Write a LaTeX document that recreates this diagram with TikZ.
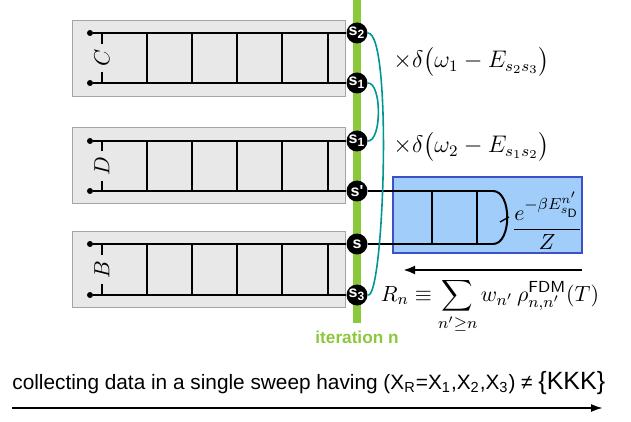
\documentclass[tikz,border=0pt]{standalone}
\usepackage{amsmath}
\usepackage{fontspec}
\newfontfamily\arial{Liberation Sans}
\usetikzlibrary{arrows.meta}
\definecolor{greybox}{RGB}{232,232,232}
\definecolor{greyline}{RGB}{165,165,165}
\definecolor{itgreen}{RGB}{140,200,60}
\definecolor{tealc}{RGB}{0,150,150}
\definecolor{bluefill}{RGB}{160,205,250}
\definecolor{blueline}{RGB}{60,80,200}
\begin{document}
\begin{tikzpicture}[x=0.5pt,y=-0.5pt,
  chainbox/.style={draw=greyline, fill=greybox, line width=0.5pt},
  leg/.style={line width=1pt, draw=black},
  siten/.style={circle, fill=black, minimum size=10.5pt, inner sep=0pt, text=white, font=\arial\bfseries\fontsize{8}{8}\selectfont},
  enddot/.style={circle, fill=black, minimum size=3pt, inner sep=0pt},
  blabel/.style={rotate=90, inner sep=2.5pt, font=\fontsize{10.95}{12}\selectfont},
  lnk/.style={draw=tealc, line width=0.8pt},
  mathlbl/.style={font=\fontsize{12}{14}\selectfont, anchor=west, inner sep=0pt},
  bigarrow/.style={line width=1.2pt, -{Latex[length=6pt,width=4.5pt]}}
]
\useasboundingbox (0,0) rectangle (631,422);
% grey boxes
\draw[chainbox] (72,21) rectangle (345,97);
\draw[chainbox] (72,128) rectangle (345,204);
\draw[chainbox] (72,232) rectangle (345,307);
% blue box
\draw[fill=bluefill, draw=blueline, line width=0.6pt] (393,177) rectangle (582,253);
% green iteration line
\draw[itgreen, line width=4pt] (357,0) -- (357,323);
% site nodes
\node[siten] (cs2) at (357,33) {s\textsubscript{2}};
\node[siten] (cs1) at (357,83) {s\textsubscript{1}};
\node[siten] (ds1) at (357,141) {s\textsubscript{1}};
\node[siten] (dsp) at (357,191) {s'};
\node[siten] (bs)  at (357,244) {s};
\node[siten] (bs3) at (357,295) {s\textsubscript{3}};
% end dots
\node[enddot] (cdt) at (90,33) {};
\node[enddot] (cdb) at (90,83) {};
\node[enddot] (ddt) at (90,141) {};
\node[enddot] (ddb) at (90,191) {};
\node[enddot] (bdt) at (90,244) {};
\node[enddot] (bdb) at (90,295) {};
% legs
\draw[leg] (cdt) -- (cs2);
\draw[leg] (cdb) -- (cs1);
\draw[leg] (ddt) -- (ds1);
\draw[leg] (ddb) -- (dsp);
\draw[leg] (bdt) -- (bs);
\draw[leg] (bdb) -- (bs3);
% rungs
\foreach \xx in {147,192,237,282,328}{
  \draw[leg] (\xx,33) -- (\xx,83);
  \draw[leg] (\xx,141) -- (\xx,191);
  \draw[leg] (\xx,244) -- (\xx,295);
}
% block labels
\coordinate (ctl) at (102,33); \coordinate (cbl) at (102,83);
\node[blabel] (clab) at (102,58) {$C$};
\draw[leg] (ctl) -- (clab) -- (cbl);
\coordinate (dtl) at (102,141); \coordinate (dbl) at (102,191);
\node[blabel] (dlab) at (102,166) {$D$};
\draw[leg] (dtl) -- (dlab) -- (dbl);
\coordinate (btl) at (102,244); \coordinate (bbl) at (102,295);
\node[blabel] (blab) at (102,269.5) {$B$};
\draw[leg] (btl) -- (blab) -- (bbl);
% blue ladder
\coordinate (bt1) at (493,191); \coordinate (bb1) at (493,244);
\draw[leg] (dsp) -- (bt1);
\draw[leg] (bs) -- (bb1);
\draw[leg] (bt1) .. controls +(19,0) and +(19,0) .. (bb1);
\draw[leg] (432,191) -- (432,244);
\draw[leg] (477,191) -- (477,244);
\draw[line width=0.7pt] (500,222) -- (509,217);
\node[font=\fontsize{10.95}{13}\selectfont] (frac) at (547,221) {$\dfrac{e^{-\beta E^{n'}_{s_{\mathsf{D}}}}}{Z}$};
% teal links
\draw[lnk] (cs2.east) .. controls +(25,0) and +(16,5) .. (bs3.east);
\draw[lnk] (cs1.east) .. controls +(14,0) and +(14,0) .. (ds1.east);
% delta labels
\node[mathlbl] (d1) at (393,62) {$\times\delta\bigl(\omega_1-E_{s_2s_3}\bigr)$};
\node[mathlbl] (d2) at (393,147) {$\times\delta\bigl(\omega_2-E_{s_1s_2}\bigr)$};
% backward arrow and R_n
\coordinate (ar1) at (582,270); \coordinate (ar2) at (403,270);
\draw[bigarrow] (ar1) -- (ar2);
\node[font=\fontsize{10.95}{13}\selectfont] (rn) at (490,306) {$\displaystyle R_n\equiv\sum_{n'\geq n} w_{n'}\,\rho^{\mathsf{FDM}}_{n,n'}(T)$};
% iteration label
\node[text=itgreen, font=\arial\bfseries\fontsize{8.6}{10}\selectfont] (itn) at (357,337) {iteration n};
% bottom
\node[font=\arial\fontsize{10.4}{12}\selectfont, anchor=west, inner sep=0pt] (coll) at (12,383) {collecting data in a single sweep having (X\textsubscript{R}=X\textsubscript{1},X\textsubscript{2},X\textsubscript{3}) ≠ {\fontsize{12.5}{14}\selectfont\{KKK\}}};
\coordinate (ba1) at (12,408); \coordinate (ba2) at (603,408);
\draw[line width=1pt, -{Latex[length=6pt,width=4pt]}] (ba1) -- (ba2);
\end{tikzpicture}
\end{document}
